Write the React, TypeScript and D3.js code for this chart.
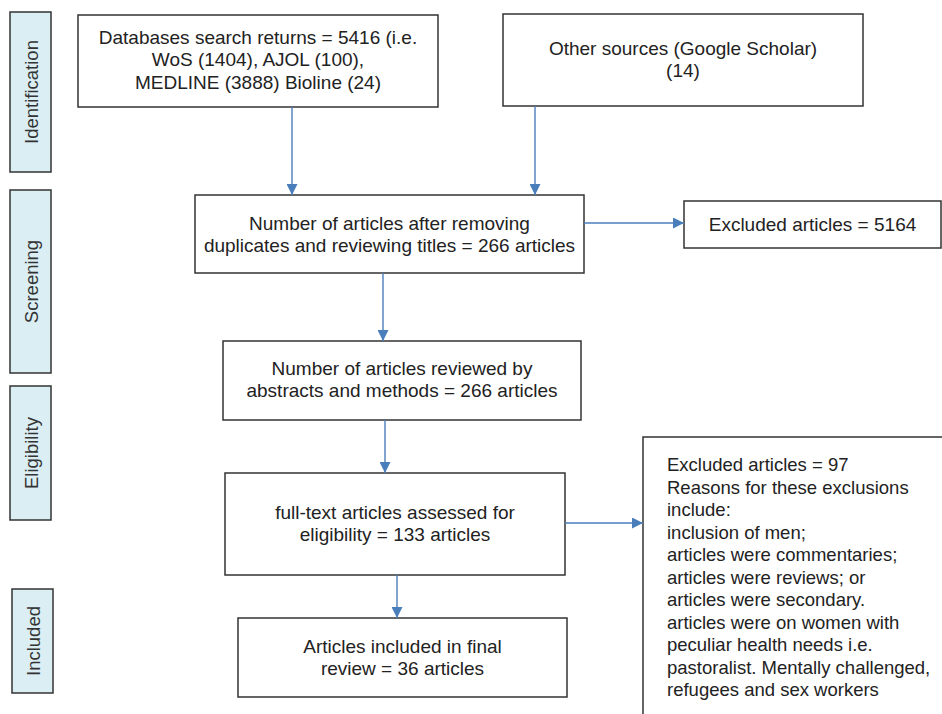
import React, { useEffect, useRef } from 'react';
import * as d3 from 'd3';

// Stage labels on the left side
const stages = ['Identification', 'Screening', 'Eligibility', 'Included'];

// Text of each flow box
const boxTexts = [
  ['Databases search returns = 5416 (i.e.', 'WoS (1404), AJOL (100),', 'MEDLINE (3888) Bioline (24)'],
  ['Other sources (Google Scholar)', '(14)'],
  ['Number of articles after removing', 'duplicates and reviewing titles = 266 articles'],
  ['Excluded articles = 5164'],
  ['Number of articles reviewed by', 'abstracts and methods = 266 articles'],
  ['full-text articles assessed for', 'eligibility = 133 articles'],
  ['Excluded articles = 97', 'Reasons for these exclusions', 'include:', 'inclusion of men;', 'articles were commentaries;', 'articles were reviews; or', 'articles were secondary.', 'articles were on women with', 'peculiar health needs i.e.', 'pastoralist. Mentally challenged,', 'refugees and sex workers'],
  ['Articles included in final', 'review = 36 articles'],
];

// layout (page coords)
const stageBoxes = [
  { x: 10, y: 12, w: 41, h: 160 },
  { x: 10, y: 190, w: 41, h: 183 },
  { x: 10, y: 386, w: 41, h: 134 },
  { x: 12, y: 589, w: 41, h: 104 },
];

const boxes = [
  { x: 78, y: 15, w: 360, h: 92, align: 'middle', ty: 37 },
  { x: 503, y: 14, w: 360, h: 92, align: 'middle', ty: 48 },
  { x: 195, y: 195, w: 389, h: 78, align: 'middle', ty: 223 },
  { x: 684, y: 201, w: 257, h: 47, align: 'middle', ty: 224 },
  { x: 223, y: 341, w: 358, h: 79, align: 'middle', ty: 368 },
  { x: 225, y: 473, w: 340, h: 102, align: 'middle', ty: 512 },
  { x: 643, y: 437, w: 320, h: 300, align: 'start', ty: 465 },
  { x: 238, y: 618, w: 329, h: 79, align: 'middle', ty: 646 },
];

const arrows = [
  [[292, 107], [292, 195]],
  [[535, 106], [535, 195]],
  [[584, 223], [684, 223]],
  [[383, 273], [383, 341]],
  [[385, 420], [385, 473]],
  [[565, 523], [643, 523]],
  [[397, 575], [397, 618]],
];

const FONT = '"Liberation Sans", Arial, sans-serif';
const LINE = 22.5;

export default function App() {
  const svgRef = useRef<SVGSVGElement>(null);

  useEffect(() => {
    if (!svgRef.current) return;
    const svg = d3.select(svgRef.current);
    svg.selectAll('*').remove();

    svg.append('defs').append('marker')
      .attr('id', 'arr')
      .attr('viewBox', '0 0 10 10')
      .attr('refX', 10)
      .attr('refY', 5)
      .attr('markerWidth', 11)
      .attr('markerHeight', 11)
      .attr('markerUnits', 'userSpaceOnUse')
      .attr('orient', 'auto')
      .append('path')
      .attr('d', 'M0,0 L10,5 L0,10 z')
      .attr('fill', '#4a7ebb');

    // stage side boxes
    const sg = svg.selectAll('.stage').data(stages).enter().append('g').attr('class', 'stage');
    sg.append('rect')
      .attr('x', (d, i) => stageBoxes[i].x)
      .attr('y', (d, i) => stageBoxes[i].y)
      .attr('width', (d, i) => stageBoxes[i].w)
      .attr('height', (d, i) => stageBoxes[i].h)
      .attr('fill', '#daeef3')
      .attr('stroke', '#333')
      .attr('stroke-width', 1.5);
    sg.append('text')
      .attr('transform', (d, i) => {
        const b = stageBoxes[i];
        return `translate(${b.x + b.w / 2 + 7},${b.y + b.h / 2}) rotate(-90)`;
      })
      .attr('text-anchor', 'middle')
      .style('font-family', FONT)
      .style('font-size', '18.5px')
      .attr('fill', '#333')
      .text(d => d);

    // flow boxes
    boxTexts.forEach((lines, i) => {
      const b = boxes[i];
      svg.append('rect')
        .attr('x', b.x).attr('y', b.y).attr('width', b.w).attr('height', b.h)
        .attr('fill', '#fff').attr('stroke', '#333').attr('stroke-width', 1.5);
      const t = svg.append('text')
        .attr('text-anchor', b.align)
        .style('font-family', FONT)
        .style('font-size', b.align === 'start' ? '18.5px' : '19px')
        .attr('fill', '#222');
      lines.forEach((ln, j) => {
        t.append('tspan')
          .attr('x', b.align === 'middle' ? b.x + b.w / 2 : b.x + 24)
          .attr('y', b.ty + j * LINE)
          .attr('dy', '0.35em')
          .text(ln);
      });
    });

    // arrows
    const line = d3.line();
    arrows.forEach(a => {
      svg.append('path')
        .attr('d', line(a as [number, number][]))
        .attr('stroke', '#4a7ebb')
        .attr('stroke-width', 1.4)
        .attr('fill', 'none')
        .attr('marker-end', 'url(#arr)');
    });
  }, []);

  return (
    <svg ref={svgRef} width={942} height={714}
      style={{ position: 'absolute', left: 0, top: 0, background: '#fff' }} />
  );
}
